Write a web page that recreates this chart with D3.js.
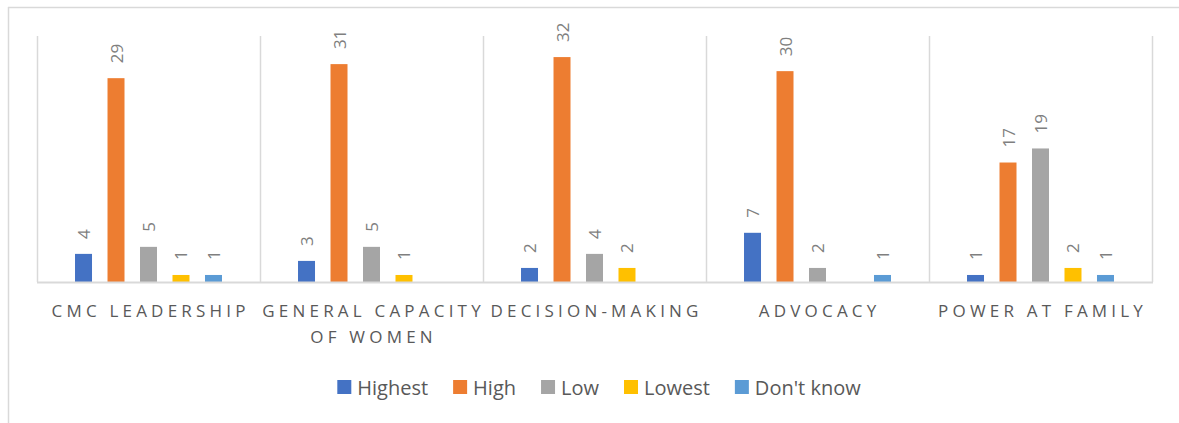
<!DOCTYPE html>
<html><head><meta charset="utf-8">
<script src="https://cdn.jsdelivr.net/npm/d3@7"></script>
<style>body{margin:0;background:#fff;} svg{display:block;}</style>
</head><body>
<svg id="c" width="1179" height="423"></svg>
<script>
const categories = [["CMC LEADERSHIP"], ["GENERAL CAPACITY", "OF WOMEN"], ["DECISION-MAKING"], ["ADVOCACY"], ["POWER AT FAMILY"]];
const seriesNames = ["Highest", "High", "Low", "Lowest", "Don't know"];
const highest  = [4, 3, 2, 7, 1];
const high     = [29, 31, 32, 30, 17];
const low      = [5, 5, 4, 2, 19];
const lowest   = [1, 1, 2, null, 2];
const dontKnow = [1, null, null, 1, 1];
const colors = ["#4472C4", "#ED7D31", "#A5A5A5", "#FFC000", "#5B9BD5"];
const seriesValues = [highest, high, low, lowest, dontKnow];

(function () {
const svg = d3.select("#c");
const font = "'Open Sans', 'Liberation Sans', sans-serif";

// chart frame
svg.append("line").attr("x1", 8).attr("x2", 1179).attr("y1", 7.5).attr("y2", 7.5).attr("stroke", "#d9d9d9").attr("stroke-width", 1.5);
svg.append("line").attr("x1", 8.5).attr("x2", 8.5).attr("y1", 7).attr("y2", 423).attr("stroke", "#d9d9d9").attr("stroke-width", 1.5);

const pLeft = 37, pRight = 1152, pTop = 36, pBottom = 282;
const x0 = d3.scaleBand().domain(d3.range(categories.length)).range([pLeft, pRight]).paddingInner(0).paddingOuter(0);
const x1 = d3.scaleBand().domain(d3.range(seriesNames.length)).range([0, x0.bandwidth()]).paddingInner(0.477).paddingOuter(1.17);
const y = d3.scaleLinear().domain([0, 35]).range([pBottom, pTop]);

// vertical separators
const seps = d3.range(categories.length + 1).map(i => i < categories.length ? x0(i) : x0(i - 1) + x0.bandwidth());
svg.append("g").selectAll("line").data(seps).join("line")
  .attr("x1", d => Math.round(d) + 0.5).attr("x2", d => Math.round(d) + 0.5)
  .attr("y1", pTop).attr("y2", pBottom).attr("stroke", "#d9d9d9").attr("stroke-width", 1.5);

// bars
const g = svg.append("g");
categories.forEach((cat, ci) => {
  seriesValues.forEach((vals, si) => {
    const v = vals[ci];
    if (v === null || v === undefined) return;
    const bx = x0(ci) + x1(si);
    g.append("rect").attr("x", bx).attr("width", x1.bandwidth())
      .attr("y", y(v)).attr("height", y(0) - y(v)).attr("fill", colors[si]);
    const cx = bx + x1.bandwidth() / 2;
    const ty = y(v) - 15;
    g.append("text").attr("transform", `translate(${cx},${ty}) rotate(-90)`)
      .attr("text-anchor", "start").attr("dominant-baseline", "central")
      .attr("font-family", font).attr("font-size", 17).attr("fill", "#7f7f7f").text(v);
  });
});

// baseline
svg.append("line").attr("x1", pLeft).attr("x2", pRight + 1).attr("y1", pBottom + 0.5).attr("y2", pBottom + 0.5)
  .attr("stroke", "#d9d9d9").attr("stroke-width", 2);

// category labels
categories.forEach((lines, ci) => {
  const cx = x0(ci) + x0.bandwidth() / 2;
  lines.forEach((ln, li) => {
    svg.append("text").attr("x", cx + 2.1).attr("y", 317 + li * 26)
      .attr("text-anchor", "middle").attr("font-family", font).attr("font-size", 17)
      .attr("letter-spacing", 4.2).attr("fill", "#595959").text(ln);
  });
});

// legend
const lg = svg.append("g");
let lx = 0;
seriesNames.forEach((n, i) => {
  const it = lg.append("g");
  it.append("rect").attr("x", 0).attr("y", -7).attr("width", 14).attr("height", 14).attr("fill", colors[i]);
  const t = it.append("text").attr("x", 20).attr("y", 0).attr("dominant-baseline", "central")
    .attr("font-family", font).attr("font-size", 20).attr("fill", "#595959").text(n);
  const w = 20 + t.node().getComputedTextLength();
  it.attr("transform", `translate(${lx},387)`);
  lx += w + 25;
});
const totalW = lx - 25;
lg.attr("transform", `translate(${599 - totalW / 2},0)`);
})();
</script>
</body></html>
